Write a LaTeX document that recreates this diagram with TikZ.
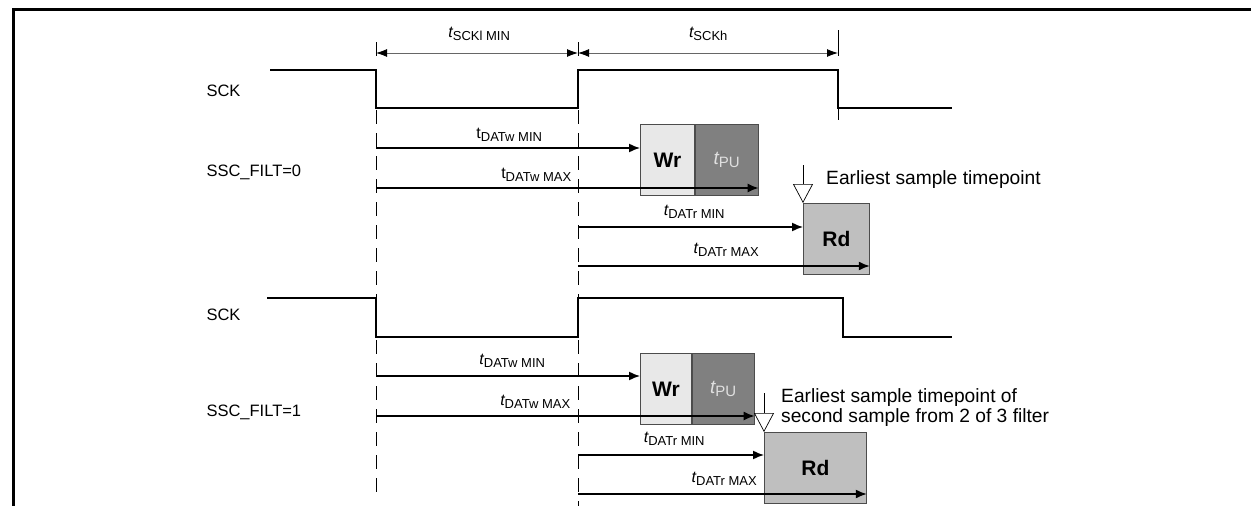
\documentclass[tikz,border=0pt]{standalone}
\usepackage{fontspec}
\setmainfont{Liberation Sans}
\usetikzlibrary{arrows.meta, positioning, calc}

\newcommand\tlab[2][\itshape]{{\fontsize{16}{16}\selectfont#1 t}\raisebox{-3.5pt}{\fontsize{13}{13}\selectfont#2}}
\newcommand\tpu{{\fontsize{19}{19}\selectfont\itshape t}\raisebox{-3.5pt}{\fontsize{15}{15}\selectfont PU}}

\begin{document}
\begin{tikzpicture}[x=1pt,y=-1pt,
    clk/.style={line width=2.4pt},
    sig/.style={line width=1.5pt,-{Latex[length=11pt,width=9pt]}},
    dim/.style={line width=0.9pt,gray!80!black,{Latex[length=11pt,width=8pt,black]}-{Latex[length=11pt,width=8pt,black]}},
    vdash/.style={line width=0.8pt,dash pattern=on 14pt off 9pt},
    smp/.style={line width=0.7pt,-{Triangle[open,length=19pt,width=20pt]}},
    wrbox/.style={draw=black!70,line width=0.8pt,fill=black!9,minimum width=54pt,minimum height=71pt,inner sep=0pt,font=\fontsize{21}{21}\selectfont\bfseries},
    pubox/.style={draw=black!70,line width=0.8pt,fill=black!50,text=black!12,minimum height=71pt,inner sep=0pt},
    rdbox/.style={draw=black!70,line width=0.8pt,fill=black!25,minimum height=71pt,inner sep=0pt,font=\fontsize{21}{21}\selectfont\bfseries},
    lbl/.style={font=\fontsize{16.5}{16.5}\selectfont,anchor=west},
    note/.style={font=\fontsize{19.2}{20}\selectfont,anchor=west,align=left,inner sep=0pt}
  ]
    \useasboundingbox (0,0) rectangle (1251,506);
    \draw[line width=3pt] (13,506) -- (13,9) -- (1251,9);

    \node[lbl] (sck1) at (203,91) {SCK};
    \node[lbl] (filt0) at (203,172) {SSC\_FILT=0};
    \node[lbl] (sck2) at (203,315) {SCK};
    \node[lbl] (filt1) at (203,412) {SSC\_FILT=1};

    \draw[clk] (270,70) -- (376,70) -- (376,108) -- (578,108) -- (578,70) -- (838,70) -- (838,108) -- (952,108);
    \draw[clk] (267,298) -- (376,298) -- (376,337) -- (578,337) -- (578,298) -- (843,298) -- (843,337) -- (952,337);

    \draw[line width=0.8pt] (376,42) -- (376,56);
    \draw[line width=0.8pt] (578,42) -- (578,56);
    \draw[line width=0.8pt] (838,30) -- (838,56);
    \draw[line width=0.8pt] (838,108) -- (838,120);
    \draw[vdash] (376,110) -- (376,492);
    \draw[vdash] (578,110) -- (578,506);

    \coordinate (d0) at (376,53);
    \coordinate (d1) at (578,53);
    \coordinate (d2) at (838,53);
    \draw[dim] (d0) -- (d1);
    \draw[dim] (d1) -- (d2);
    \node (tsckl) at (477,34) {\tlab{SCKl MIN}};
    \node (tsckh) at (706,34) {\tlab{SCKh}};

    \node[wrbox,anchor=north west] (wr1) at (640,124) {Wr};
    \node[pubox,minimum width=63pt,right=0pt of wr1] (pu1) {\tpu};
    \node[rdbox,minimum width=66pt,anchor=north west] (rd1) at (803,203) {Rd};

    \coordinate (w1) at (376,148);
    \coordinate (w2) at (376,188);
    \coordinate (r1) at (578,227);
    \coordinate (r2) at (578,266);
    \draw[sig] (w1) -- (w1 -| wr1.west);
    \draw[sig] (w2) -- (w2 -| pu1.east);
    \draw[sig] (r1) -- (r1 -| rd1.west);
    \draw[sig] (r2) -- (r2 -| rd1.east);
    \node (tw1) at (507,135) {\tlab[\upshape]{DATw MIN}};
    \node (tw2) at (534,175) {\tlab[\upshape]{DATw MAX}};
    \node (tr1) at (692,212) {\tlab{DATr MIN}};
    \node (tr2) at (724,250) {\tlab{DATr MAX}};

    \coordinate (s1) at (803,165);
    \draw[smp] (s1) -- (rd1.north west);
    \node[note] (earl1) at (826,180) {Earliest sample timepoint};

    \node[wrbox,minimum width=51pt,anchor=north west] (wr2) at (640,353) {Wr};
    \node[pubox,minimum width=62pt,right=0pt of wr2] (pu2) {\tpu};
    \node[rdbox,minimum width=102pt,anchor=north west] (rd2) at (764,432) {Rd};

    \coordinate (w3) at (376,376);
    \coordinate (w4) at (376,416);
    \coordinate (r3) at (578,455);
    \coordinate (r4) at (578,494);
    \draw[sig] (w3) -- (w3 -| wr2.west);
    \draw[sig] (w4) -- (w4 -| pu2.east);
    \draw[sig] (r3) -- (r3 -| rd2.west);
    \draw[sig] (r4) -- (r4 -| rd2.east);
    \node (tw3) at (510,361) {\tlab{DATw MIN}};
    \node (tw4) at (533,402) {\tlab{DATw MAX}};
    \node (tr3) at (672,439) {\tlab{DATr MIN}};
    \node (tr4) at (722,479) {\tlab{DATr MAX}};

    \coordinate (s2) at (764,393);
    \draw[smp] (s2) -- (rd2.north west);
    \node[note] (earl2) at (781,408) {Earliest sample timepoint of\\second sample from 2 of 3 filter};
\end{tikzpicture}
\end{document}
